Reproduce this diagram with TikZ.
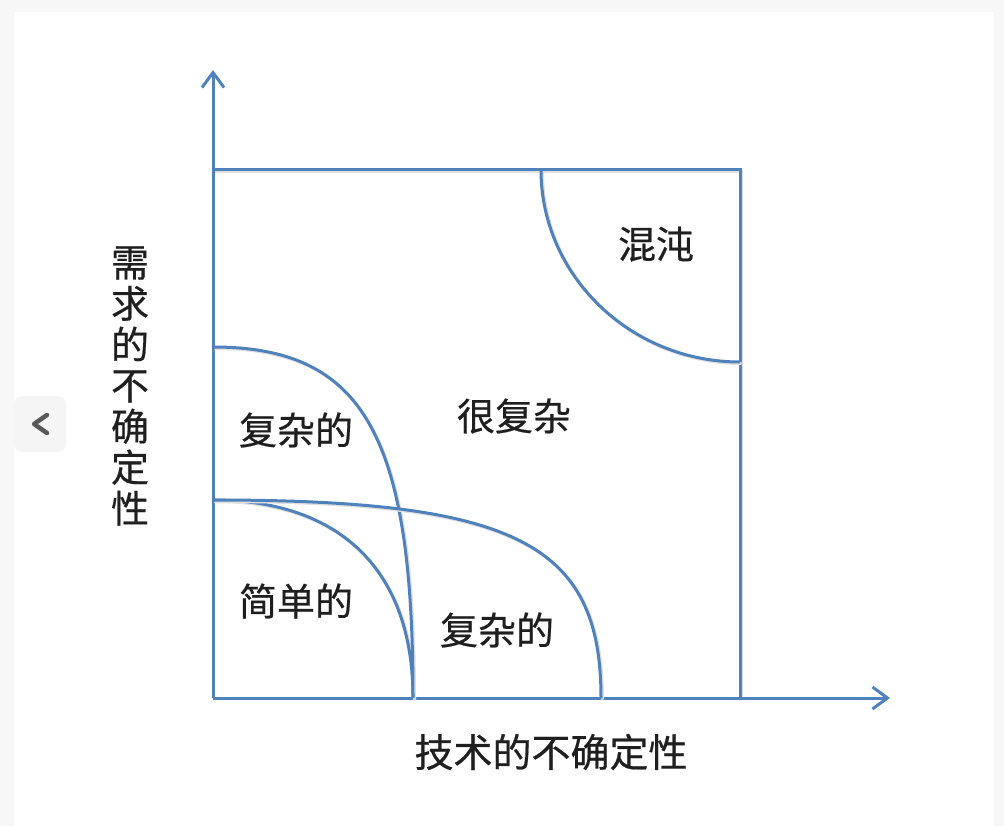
\documentclass[tikz,border=0pt]{standalone}
\usepackage{fontspec}
\usepackage{xcolor}
\usepackage{tikz}
\usetikzlibrary{arrows.meta,calc}
\newfontfamily\cjk[FakeBold=0.5]{Noto Sans CJK SC}
\definecolor{axisblue}{RGB}{79,129,189}
\definecolor{pagegray}{RGB}{247,247,247}

\begin{document}
\begin{tikzpicture}[
  x=1pt,y=-1pt,
  blueline/.style={draw=axisblue,line width=3pt},
  axis/.style={blueline,-{Straight Barb[length=15pt,width=22pt]}},
  curve/.style={blueline,preaction={draw=black!12,line width=3pt,
    transform canvas={shift={(1.5pt,-1.5pt)}}}},
  lab/.style={font=\cjk\fontsize{38}{41}\selectfont,text=black!88},
  navbtn/.style={fill=black!4,rounded corners=8pt,minimum width=52pt,minimum height=56pt},
  chev/.style={draw=black!65,line width=4.5pt,line cap=round,line join=round}]
\useasboundingbox (0,0) rectangle (1004,826);
\fill[pagegray] (0,0) rectangle (1004,826);
\fill[white] (14,12) rectangle (994,826);
\node[navbtn] (nav) at (40,424) {};
\draw[chev] ($(nav.center)+(7,-9)$) -- ($(nav.center)+(-6,0)$) -- ($(nav.center)+(7,9)$);
% axes and box
\coordinate (O) at (213,698);
\coordinate (ytip) at (213,70);
\coordinate (xtip) at (890,698);
\coordinate (tl) at (213,170);
\coordinate (tr) at (740,170);
\coordinate (br) at (740,698);
\draw[curve] (tl) -- (tr) -- (br);
\draw[axis] (O) -- (ytip);
\draw[axis] (O) -- (xtip);
% region borders
\coordinate (simpleS) at (213,500);
\coordinate (simpleE) at (413,698);
\coordinate (reqS) at (213,347);
\coordinate (techE) at (601,698);
\coordinate (chaosS) at (541,170);
\coordinate (chaosE) at (740,362);
\coordinate (simpleC) at (simpleS -| simpleE);
\coordinate (reqC) at (reqS -| simpleE);
\coordinate (techC) at (simpleS -| techE);
\coordinate (chaosC) at (chaosS |- chaosE);
\draw[curve] (simpleS) .. controls ($(simpleS)!0.64!(simpleC)$) and ($(simpleE)!0.64!(simpleC)$) .. (simpleE);
\draw[curve] (reqS) .. controls ($(reqS)!0.75!(reqC)$) and ($(simpleE)!0.75!(reqC)$) .. (simpleE);
\draw[curve] (simpleS) .. controls ($(simpleS)!0.78!(techC)$) and ($(techE)!0.78!(techC)$) .. (techE);
\draw[curve] (chaosS) .. controls ($(chaosS)!0.55!(chaosC)$) and ($(chaosE)!0.55!(chaosC)$) .. (chaosE);
% labels
\node[lab] (chaos) at (656,244) {混沌};
\node[lab] (vcomplex) at (514,416) {很复杂};
\node[lab] (reqcomplex) at (296,430) {复杂的};
\node[lab] (simple) at (296,601) {简单的};
\node[lab] (techcomplex) at (497,630) {复杂的};
\node[lab,font=\cjk\fontsize{39}{41}\selectfont] (xlab) at (551,752) {技术的不确定性};
\node[lab,align=center] (ylab) at (130,386) {需\\求\\的\\不\\确\\定\\性};
\end{tikzpicture}
\end{document}
